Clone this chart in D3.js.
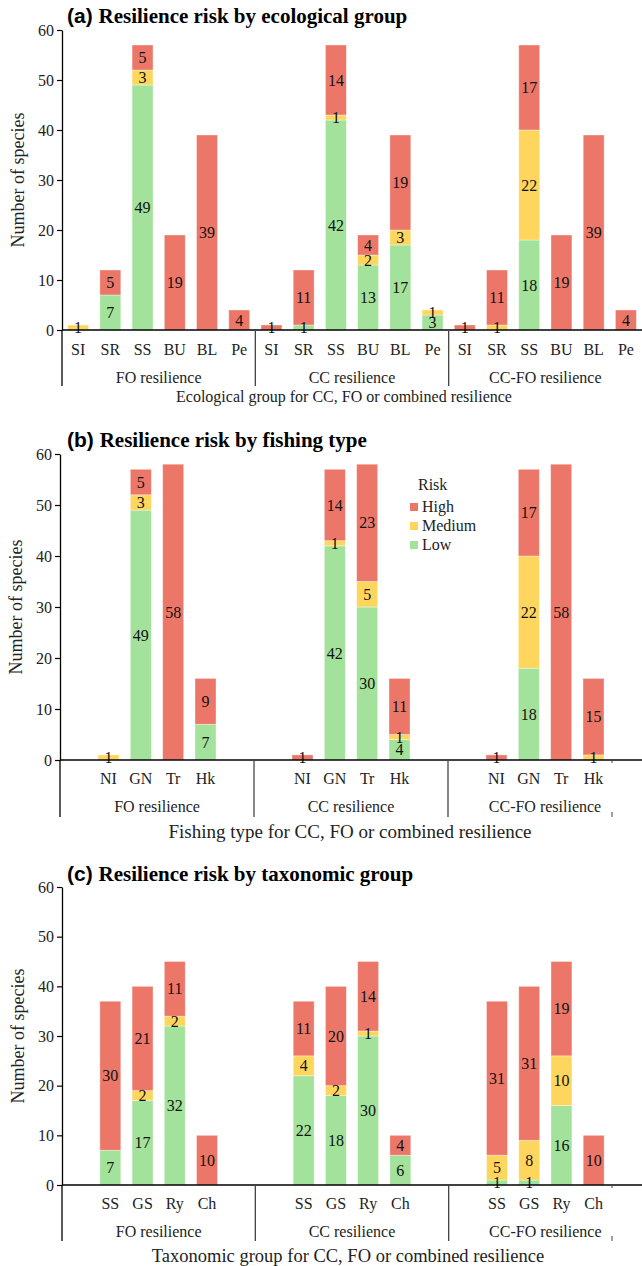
<!DOCTYPE html>
<html>
<head>
<meta charset="utf-8">
<title>Resilience risk</title>
<script src="https://cdn.jsdelivr.net/npm/d3@7"></script>
<style>
  body { margin: 0; background: #fff; }
  svg { display: block; }
</style>
</head>
<body>
<script>
var W = 642, H = 1266;

// risk classes, bottom to top of each stack
var risks = ["Low", "Medium", "High"];
var riskColors = { Low: "#a3e29b", Medium: "#fed65e", High: "#ec7769" };
var legendOrder = ["High", "Medium", "Low"];
var groups = ["FO resilience", "CC resilience", "CC-FO resilience"];
var yTicks = [0, 10, 20, 30, 40, 50, 60];

// (a) ecological group  -- rows are FO, CC, CC-FO
var ecoCats = ["SI", "SR", "SS", "BU", "BL", "Pe"];
var ecoLow  = [[0, 7, 49, 0, 0, 0], [0, 1, 42, 13, 17, 3], [0, 0, 18, 0, 0, 0]];
var ecoMed  = [[1, 0, 3, 0, 0, 0],  [0, 0, 1, 2, 3, 1],    [0, 1, 22, 0, 0, 0]];
var ecoHigh = [[0, 5, 5, 19, 39, 4], [1, 11, 14, 4, 19, 0], [1, 11, 17, 19, 39, 4]];

// (b) fishing type
var fishCats = ["NI", "GN", "Tr", "Hk"];
var fishLow  = [[0, 49, 0, 7], [0, 42, 30, 4], [0, 18, 0, 0]];
var fishMed  = [[1, 3, 0, 0],  [0, 1, 5, 1],   [0, 22, 0, 1]];
var fishHigh = [[0, 5, 58, 9], [1, 14, 23, 11], [1, 17, 58, 15]];

// (c) taxonomic group
var taxCats = ["SS", "GS", "Ry", "Ch"];
var taxLow  = [[7, 17, 32, 0],   [22, 18, 30, 6], [1, 1, 16, 0]];
var taxMed  = [[0, 2, 2, 0],     [4, 2, 1, 0],    [5, 8, 10, 0]];
var taxHigh = [[30, 21, 11, 10], [11, 20, 14, 4], [31, 31, 19, 10]];

var serif = "'Liberation Serif', 'Times New Roman', serif";
var sans = "'Liberation Sans', Arial, sans-serif";

var svg = d3.select("body").append("svg").attr("width", W).attr("height", H);

var panels = [
  { letter: "(a)", title: "Resilience risk by ecological group", cats: ecoCats, low: ecoLow, med: ecoMed, high: ecoHigh,
    blank: false, left: 62, top: 30, zero: 330, titleY: 23, catY: 355, grpY: 383, sepBottom: 386,
    axisTitle: "Ecological group for CC, FO or combined resilience", axisX: 344, axisY: 402, axisSize: 16, stray: false },
  { letter: "(b)", title: "Resilience risk by fishing type", cats: fishCats, low: fishLow, med: fishMed, high: fishHigh,
    blank: true, left: 60, top: 454, zero: 760, titleY: 447, catY: 784, grpY: 812, sepBottom: 817,
    axisTitle: "Fishing type for CC, FO or combined resilience", axisX: 350, axisY: 838, axisSize: 19, stray: true, legend: true },
  { letter: "(c)", title: "Resilience risk by taxonomic group", cats: taxCats, low: taxLow, med: taxMed, high: taxHigh,
    blank: true, left: 62, top: 887, zero: 1185, titleY: 881, catY: 1209, grpY: 1237, sepBottom: 1241,
    axisTitle: "Taxonomic group for CC, FO or combined resilience", axisX: 348, axisY: 1262, axisSize: 18.5, stray: true }
];

panels.forEach(drawPanel);

function drawPanel(p) {
  var g = svg.append("g");

  // slot keys: each group gets an empty slot either side when blank = true
  var keys = [];
  groups.forEach(function(gr, gi) {
    if (p.blank) keys.push(gi + "|_a");
    p.cats.forEach(function(c) { keys.push(gi + "|" + c); });
    if (p.blank) keys.push(gi + "|_b");
  });
  var perGroup = keys.length / groups.length;

  var x = d3.scaleBand().domain(keys).range([p.left, W])
    .paddingInner(0.35).paddingOuter(0.175);
  var y = d3.scaleLinear().domain([0, 60]).range([p.zero, p.top]);

  var rows = [];
  groups.forEach(function(gr, gi) {
    p.cats.forEach(function(c, ci) {
      rows.push({ key: gi + "|" + c, cat: c, Low: p.low[gi][ci], Medium: p.med[gi][ci], High: p.high[gi][ci] });
    });
  });
  var layers = d3.stack().keys(risks)(rows);

  layers.forEach(function(layer) {
    var segs = layer.filter(function(d) { return d[1] - d[0] > 0; });
    g.selectAll(null).data(segs).enter().append("rect")
      .attr("x", function(d) { return x(d.data.key); })
      .attr("y", function(d) { return y(d[1]); })
      .attr("width", x.bandwidth())
      .attr("height", function(d) { return y(d[0]) - y(d[1]); })
      .attr("fill", riskColors[layer.key])
      .attr("stroke", "#fff")
      .attr("stroke-opacity", 0.45)
      .attr("stroke-width", 0.8);
  });

  layers.forEach(function(layer) {
    var segs = layer.filter(function(d) { return d[1] - d[0] > 0; });
    g.selectAll(null).data(segs).enter().append("text")
      .attr("x", function(d) { return x(d.data.key) + x.bandwidth() / 2; })
      .attr("y", function(d) { return (y(d[0]) + y(d[1])) / 2; })
      .attr("dy", "0.35em")
      .attr("text-anchor", "middle")
      .style("font-family", serif).style("font-size", "16px").attr("fill", "#111")
      .text(function(d) { return d[1] - d[0]; });
  });

  // y axis
  var yAxis = d3.axisLeft(y).tickValues(yTicks).tickSize(5).tickSizeOuter(0).tickPadding(3);
  var ya = g.append("g").attr("transform", "translate(" + p.left + ",0)").call(yAxis);
  ya.select(".domain").attr("stroke", "#000").attr("stroke-width", 1.3);
  ya.selectAll(".tick line").attr("stroke", "#000").attr("stroke-width", 1.2);
  ya.selectAll(".tick text").style("font-family", serif).style("font-size", "16px").attr("fill", "#222");

  g.append("text")
    .attr("transform", "translate(" + (p.left - 38) + "," + ((p.top + p.zero) / 2) + ") rotate(-90)")
    .attr("text-anchor", "middle")
    .style("font-family", serif).style("font-size", "18px").attr("fill", "#222")
    .text("Number of species");

  // zero line across the whole width
  g.append("line")
    .attr("x1", p.left).attr("x2", W).attr("y1", y(0)).attr("y2", y(0))
    .attr("stroke", "#000").attr("stroke-width", 1.3);

  // group separators (first one is the axis running down)
  groups.forEach(function(gr, gi) {
    var sx = p.left + gi * perGroup * x.step();
    g.append("line")
      .attr("x1", sx).attr("x2", sx).attr("y1", y(0)).attr("y2", p.sepBottom)
      .attr("stroke", gi === 0 ? "#000" : "#444").attr("stroke-width", 1.3);
    g.append("text")
      .attr("x", sx + perGroup * x.step() / 2).attr("y", p.grpY)
      .attr("text-anchor", "middle")
      .style("font-family", serif).style("font-size", "16px").attr("fill", "#222")
      .text(gr);
  });

  // category labels
  g.selectAll(null).data(rows).enter().append("text")
    .attr("x", function(d) { return x(d.key) + x.bandwidth() / 2; })
    .attr("y", p.catY)
    .attr("text-anchor", "middle")
    .style("font-family", serif).style("font-size", "16px").attr("fill", "#222")
    .text(function(d) { return d.cat; });

  // stray tick marks at right end of (b) and (c)
  if (p.stray) {
    g.append("line").attr("x1", 612).attr("x2", 612).attr("y1", y(0)).attr("y2", y(0) + 3)
      .attr("stroke", "#444").attr("stroke-width", 1);
    g.append("line").attr("x1", 612).attr("x2", 612).attr("y1", p.sepBottom - 5).attr("y2", p.sepBottom)
      .attr("stroke", "#444").attr("stroke-width", 1);
  }

  g.append("text")
    .attr("x", p.axisX).attr("y", p.axisY)
    .attr("text-anchor", "middle")
    .style("font-family", serif).style("font-size", p.axisSize + "px").attr("fill", "#222")
    .text(p.axisTitle);

  var t = g.append("text").attr("x", 67).attr("y", p.titleY)
    .style("font-size", "21px").style("font-weight", "bold").attr("fill", "#000");
  t.append("tspan").style("font-family", sans).text(p.letter + " ");
  t.append("tspan").style("font-family", serif).text(p.title);

  if (p.legend) {
    var lg = g.append("g").attr("transform", "translate(410,490)");
    lg.append("text").attr("x", 8).attr("y", 0)
      .style("font-family", serif).style("font-size", "16px").attr("fill", "#222").text("Risk");
    legendOrder.forEach(function(r, i) {
      lg.append("rect").attr("x", 0).attr("y", 13 + i * 19).attr("width", 8).attr("height", 8)
        .attr("fill", riskColors[r]);
      lg.append("text").attr("x", 12).attr("y", 22 + i * 19)
        .style("font-family", serif).style("font-size", "16px").attr("fill", "#222").text(r);
    });
  }
}
</script>
</body>
</html>
